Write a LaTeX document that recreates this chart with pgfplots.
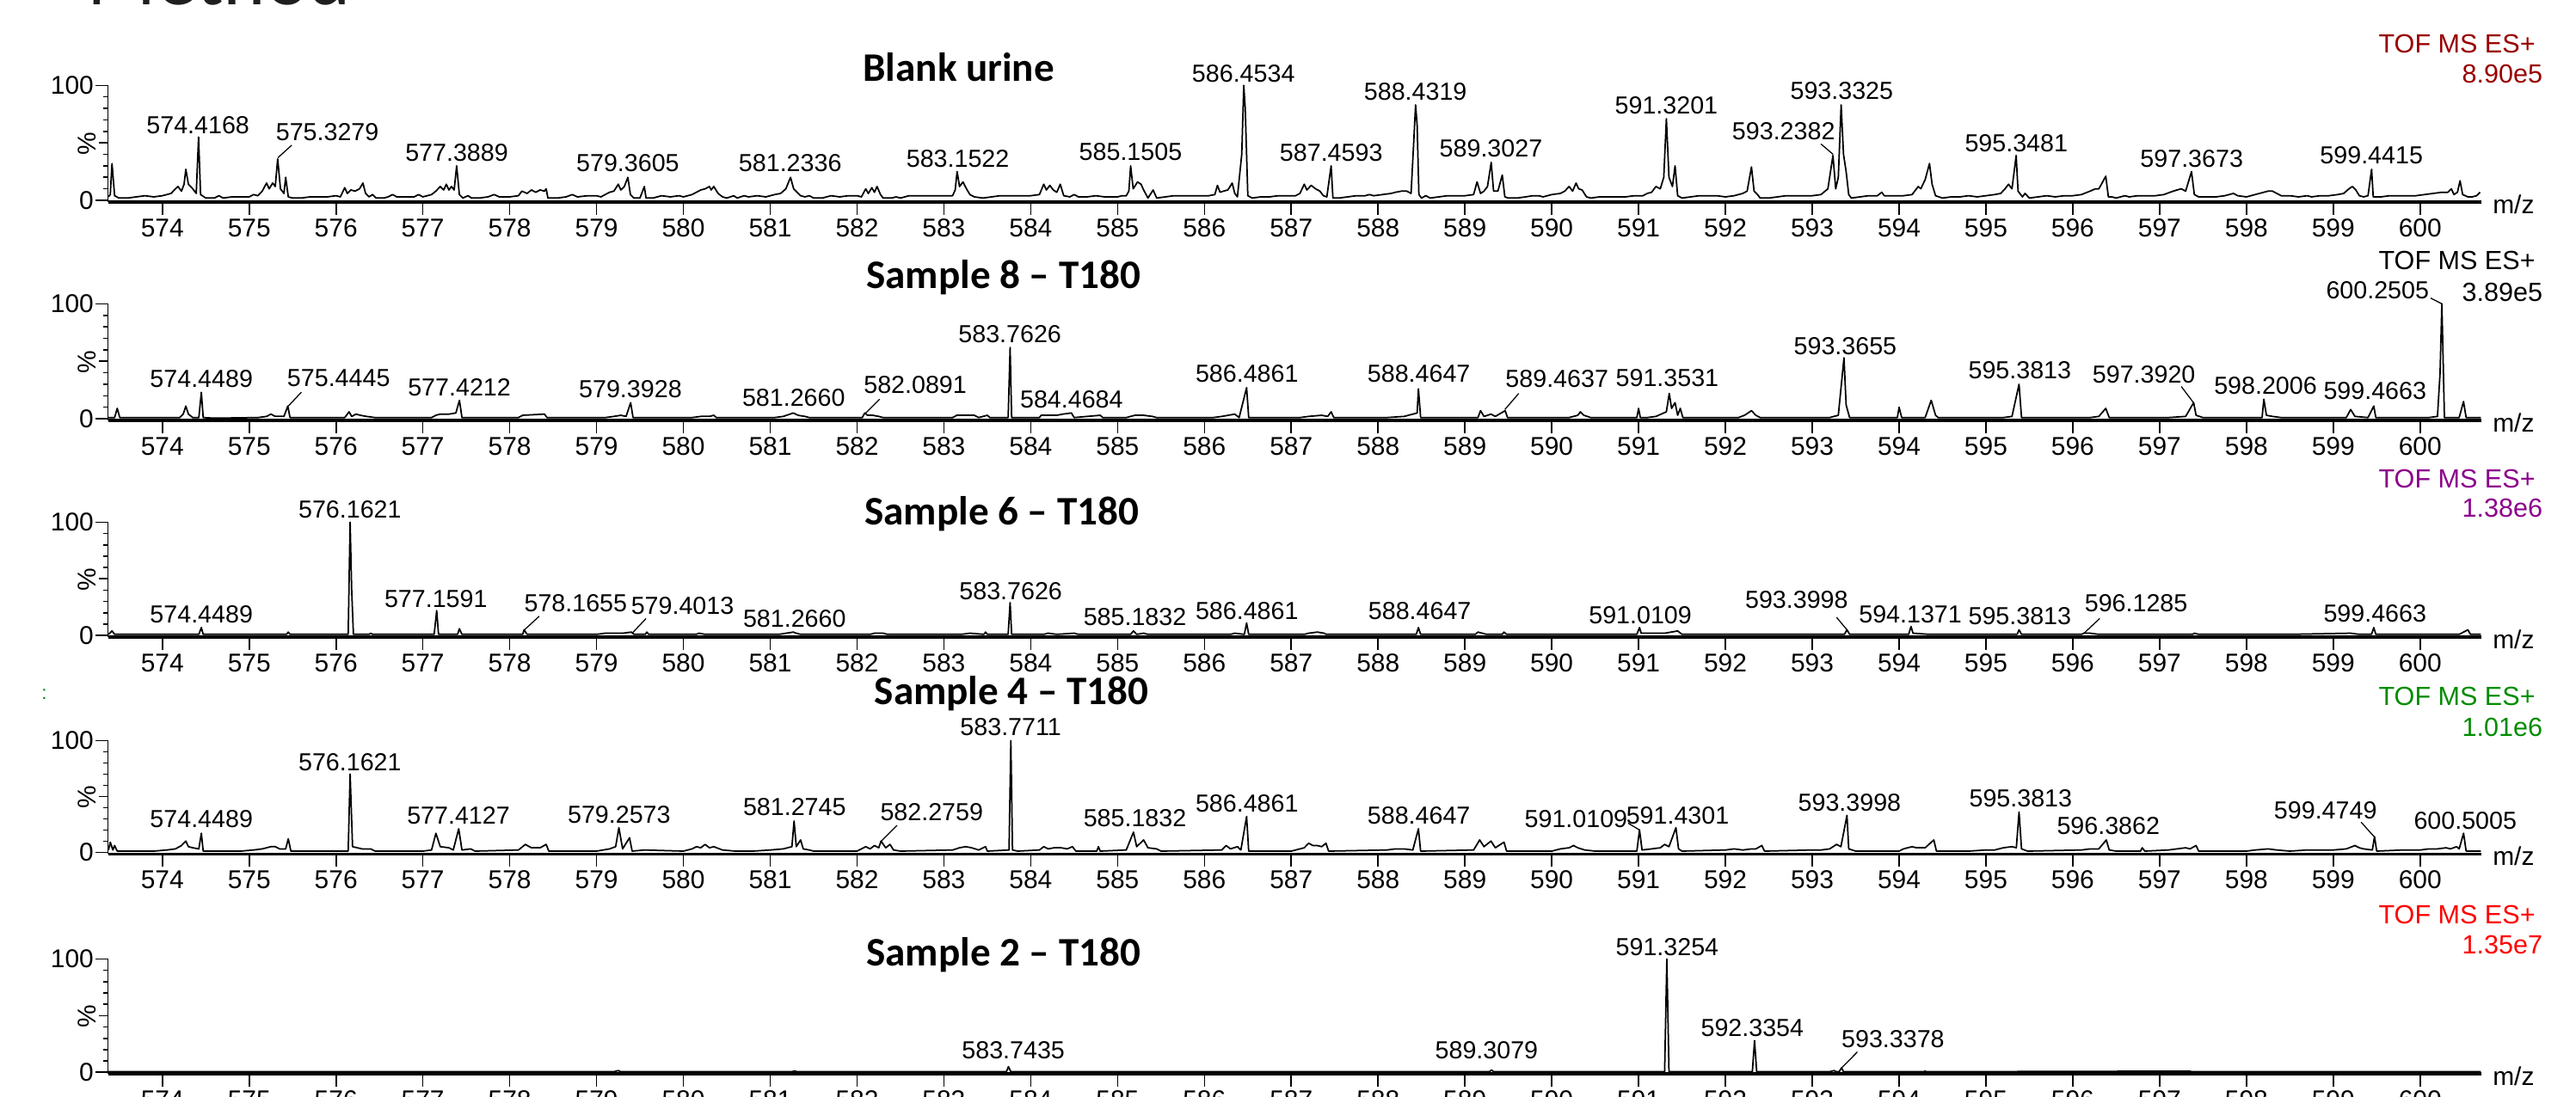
\documentclass[border=0pt]{standalone}
\usepackage{pgfplots}
\pgfplotsset{compat=1.18}
\usepackage{fontspec}
\setmainfont{Liberation Sans}
\newfontfamily\calibri{Carlito}
\newcommand\tickf{\fontsize{9.4}{11}\selectfont}
\newcommand\pkf{\fontsize{9}{10}\selectfont}
\newcommand\toff{\fontsize{9.6}{11}\selectfont}
\newcommand\ttl{\calibri\bfseries\fontsize{14.8}{17}\selectfont}
\definecolor{tofred}{RGB}{153,0,0}
\definecolor{tofpurple}{RGB}{140,0,140}
\definecolor{tofgreen}{RGB}{0,140,0}
\definecolor{tofbright}{RGB}{255,0,0}
\newcommand\pl[3]{\node[anchor=base,font=\pkf,inner sep=0pt] at (axis cs:#1,#2) {#3};}
\newcommand\ld[4]{\draw[line width=0.4pt] (axis cs:#1,#2) -- (axis cs:#3,#4);}
\pgfplotsset{ms/.style={scale only axis, width=866.9pt, xmin=573.375, xmax=600.71, ymin=-1.5, ymax=100,
  axis x line=bottom, axis y line=left, x axis line style={-, line width=1.1pt}, y axis line style={-, line width=0.5pt},
  xtick={574,...,600}, ytick={0,100}, minor y tick num=9, extra y ticks={50}, extra y tick labels={},
  extra y tick style={major tick length=3.4pt},
  tick align=outside, major tick length=4.6pt, minor tick length=1.8pt, tick style={black, line width=0.5pt},
  clip=false, /pgf/number format/assume math mode=true,
  xticklabel style={font=\tickf, inner sep=1.4pt}, yticklabel style={font=\tickf, inner sep=0.5pt},
  cycle list={{black, no markers, line width=0.55pt, line join=round}}}}
\begin{document}
\begin{tikzpicture}
% ---------------- Panel 1: Blank urine
\begin{axis}[ms, height=42.63pt, at={(39.48pt,326.97pt)}, anchor=south west]
\addplot[black, no markers, line width=0.55pt, line join=round] coordinates {(573.38,3)(573.40,5)(573.42,32)(573.45,4)(573.5,2)(573.6,2)(573.7,3)(573.8,4)(573.9,3)(574.0,4)(574.1,6)(574.15,10)(574.18,12)(574.22,8)(574.25,14)(574.27,27)(574.30,14)(574.35,10)(574.39,6)(574.4168,55)(574.44,5)(574.5,2)(574.6,2)(574.65,4)(574.7,2)(574.8,3)(574.9,3)(575.0,3)(575.05,5)(575.1,4)(575.15,8)(575.2,15)(575.23,10)(575.27,15)(575.3,12)(575.3279,36)(575.36,10)(575.4,6)(575.42,20)(575.45,3)(575.5,2)(575.6,2)(575.7,3)(575.8,3)(575.9,3)(576.0,4)(576.05,3)(576.1,11)(576.13,6)(576.17,9)(576.22,8)(576.27,10)(576.31,15)(576.34,6)(576.38,3)(576.42,5)(576.46,2)(576.55,2)(576.6,3)(576.65,5)(576.7,3)(576.8,3)(576.9,3)(576.95,5)(577.0,3)(577.1,5)(577.15,8)(577.2,12)(577.24,9)(577.27,14)(577.3,9)(577.33,12)(577.36,9)(577.3889,30)(577.42,5)(577.46,2)(577.52,4)(577.56,2)(577.65,2)(577.75,3)(577.82,5)(577.88,3)(578.0,3)(578.1,4)(578.14,8)(578.2,6)(578.25,9)(578.3,7)(578.35,9)(578.4,8)(578.42,10)(578.44,2)(578.55,2)(578.65,3)(578.72,5)(578.78,3)(578.9,4)(579.0,4)(579.05,3)(579.1,5)(579.15,7)(579.2,8)(579.25,14)(579.28,9)(579.32,12)(579.3605,20)(579.39,5)(579.43,2)(579.5,2)(579.55,12)(579.57,2)(579.65,2)(579.75,4)(579.85,3)(579.95,4)(580.0,3)(580.1,5)(580.15,7)(580.2,9)(580.25,10)(580.3,12)(580.32,9)(580.35,12)(580.4,6)(580.45,3)(580.5,2)(580.58,4)(580.62,2)(580.7,4)(580.75,3)(580.85,4)(580.95,3)(581.05,5)(581.12,6)(581.18,10)(581.2336,20)(581.27,10)(581.31,7)(581.35,4)(581.4,3)(581.45,4)(581.5,2)(581.6,2)(581.7,4)(581.8,3)(581.9,4)(582.0,4)(582.05,3)(582.1,10)(582.13,6)(582.17,11)(582.2,7)(582.23,12)(582.27,5)(582.3,2)(582.4,2)(582.45,3)(582.5,2)(582.6,4)(582.7,4)(582.8,4)(582.9,4)(583.0,4)(583.1,4)(583.13,9)(583.1522,25)(583.18,12)(583.22,16)(583.26,10)(583.3,5)(583.35,3)(583.45,2)(583.55,3)(583.65,4)(583.75,4)(583.85,4)(583.95,4)(584.0,4)(584.1,5)(584.15,14)(584.18,9)(584.22,13)(584.26,9)(584.3,7)(584.34,14)(584.38,4)(584.45,3)(584.5,5)(584.55,3)(584.65,3)(584.75,4)(584.85,3)(584.95,3)(585.0,3)(585.05,4)(585.1,4)(585.13,8)(585.1505,30)(585.18,10)(585.23,16)(585.27,14)(585.3,9)(585.35,2)(585.41,9)(585.45,2)(585.55,3)(585.65,4)(585.75,4)(585.85,4)(585.95,4)(586.05,4)(586.12,5)(586.15,13)(586.18,7)(586.22,8)(586.27,9)(586.32,15)(586.35,6)(586.38,3)(586.43,40)(586.4534,100)(586.47,80)(586.5,4)(586.55,2)(586.65,3)(586.75,3)(586.85,4)(586.95,4)(587.05,4)(587.1,6)(587.15,14)(587.18,9)(587.23,13)(587.28,10)(587.33,8)(587.37,4)(587.41,3)(587.4593,30)(587.48,2)(587.55,2)(587.65,3)(587.75,4)(587.85,4)(587.9,5)(587.95,4)(588.05,5)(588.15,6)(588.2,7)(588.27,8)(588.33,8)(588.38,6)(588.41,50)(588.4319,83)(588.45,65)(588.47,5)(588.5,2)(588.55,4)(588.6,2)(588.7,3)(588.8,4)(588.9,4)(589.0,4)(589.1,5)(589.14,16)(589.18,6)(589.22,8)(589.26,12)(589.3027,33)(589.33,8)(589.38,8)(589.43,22)(589.46,3)(589.5,2)(589.6,2)(589.7,3)(589.78,4)(589.85,4)(589.9,3)(589.95,4)(590.0,5)(590.1,6)(590.15,8)(590.2,12)(590.24,8)(590.28,15)(590.31,10)(590.35,9)(590.4,3)(590.45,2)(590.55,3)(590.65,3)(590.75,3)(590.85,3)(590.95,4)(591.05,4)(591.1,6)(591.15,7)(591.2,12)(591.25,10)(591.29,20)(591.3201,71)(591.35,20)(591.39,12)(591.42,30)(591.45,4)(591.5,2)(591.6,3)(591.7,4)(591.8,4)(591.9,4)(592.0,3)(592.1,4)(592.2,6)(592.25,8)(592.3,29)(592.33,8)(592.37,5)(592.4,2)(592.5,2)(592.6,3)(592.7,4)(592.8,4)(592.9,4)(593.0,4)(593.1,5)(593.18,10)(593.2382,39)(593.27,10)(593.3,20)(593.3325,83)(593.36,40)(593.39,25)(593.42,5)(593.45,2)(593.55,3)(593.65,4)(593.75,4)(593.8,7)(593.83,4)(593.95,4)(594.05,4)(594.15,5)(594.22,12)(594.25,10)(594.3,18)(594.35,32)(594.38,14)(594.42,4)(594.5,2)(594.6,3)(594.7,3)(594.8,4)(594.9,3)(595.0,4)(595.1,5)(595.17,6)(595.22,10)(595.26,14)(595.3,10)(595.3481,39)(595.37,8)(595.42,3)(595.45,6)(595.5,2)(595.6,3)(595.7,4)(595.8,3)(595.9,4)(596.0,4)(596.1,5)(596.2,8)(596.26,10)(596.3,10)(596.33,14)(596.38,21)(596.41,3)(596.45,3)(596.5,2)(596.6,4)(596.65,3)(596.75,4)(596.85,4)(596.95,4)(597.05,5)(597.12,7)(597.2,9)(597.25,10)(597.3,8)(597.3673,25)(597.4,5)(597.45,3)(597.55,3)(597.65,3)(597.75,4)(597.85,6)(597.9,4)(598.0,3)(598.1,5)(598.2,7)(598.25,8)(598.3,8)(598.35,6)(598.4,4)(598.5,4)(598.6,3)(598.7,4)(598.75,3)(598.85,4)(598.95,4)(599.05,5)(599.12,6)(599.18,10)(599.22,12)(599.26,9)(599.3,4)(599.35,3)(599.4,4)(599.4415,27)(599.46,3)(599.55,3)(599.65,4)(599.75,4)(599.85,4)(599.95,4)(600.05,5)(600.15,6)(600.25,7)(600.32,7)(600.36,10)(600.39,5)(600.43,7)(600.46,17)(600.49,5)(600.55,3)(600.6,3)(600.65,4)(600.69,7)};
\node[rotate=90,font=\tickf,inner sep=0pt] at (axis description cs:-0.009,0.5) {\%};
\pl{574.41}{58}{574.4168}
\pl{575.90}{52}{575.3279}\ld{575.33}{37}{575.49}{48}
\pl{577.39}{34}{577.3889}
\pl{579.36}{25}{579.3605}
\pl{581.23}{25}{581.2336}
\pl{583.16}{29}{583.1522}
\pl{585.15}{35}{585.1505}
\pl{586.45}{103}{586.4534}
\pl{587.46}{34}{587.4593}
\pl{588.43}{87}{588.4319}
\pl{589.30}{38}{589.3027}
\pl{591.32}{75}{591.3201}
\pl{592.67}{53}{593.2382}\ld{593.24}{40}{593.10}{49}
\pl{593.34}{88}{593.3325}
\pl{595.35}{42}{595.3481}
\pl{597.37}{29}{597.3673}
\pl{599.44}{32}{599.4415}
\end{axis}
% ---------------- Panel 2: Sample 8
\begin{axis}[ms, height=42.63pt, at={(39.48pt,247.17pt)}, anchor=south west]
\addplot[black, no markers, line width=0.55pt, line join=round] coordinates {(573.38,1)(573.45,1)(573.48,9)(573.51,1)(574.2,1)(574.24,4)(574.27,11)(574.3,4)(574.35,1)(574.42,1)(574.4489,23)(574.47,1)(574.6,0.5)(575.1,1)(575.2,2)(575.25,4)(575.3,2)(575.4,2)(575.4445,11)(575.47,1)(576.1,1)(576.15,6)(576.18,2)(576.23,4)(576.28,3)(576.35,2)(576.45,1)(577.1,1)(577.15,3)(577.2,4)(577.3,4)(577.38,5)(577.4212,16)(577.45,1)(578.1,1)(578.15,3)(578.4,4)(578.43,1)(579.1,1)(579.2,2)(579.28,3)(579.34,2)(579.3928,14)(579.42,1)(580.1,1)(580.2,2)(580.3,2)(580.35,3)(580.38,1)(581.05,1)(581.15,2)(581.2660,5)(581.32,3)(581.4,2)(581.45,1)(582.06,1)(582.0891,5)(582.12,3)(582.18,3)(582.25,2)(582.3,1)(583.1,1)(583.15,3)(583.25,3)(583.35,3)(583.4,1)(583.5,3)(583.53,1)(583.74,1)(583.7626,62)(583.78,1)(584.1,1)(584.12,3)(584.3,3)(584.37,4)(584.4684,5)(584.5,1)(584.8,3)(584.83,1)(585.1,1)(585.2,3)(585.3,3)(585.4,2)(585.45,1)(586.1,1)(586.2,2)(586.35,4)(586.4,1)(586.4861,27)(586.51,1)(587.1,1)(587.2,2)(587.35,3)(587.42,2)(587.46,6)(587.49,1)(588.1,1)(588.3,2)(588.45,5)(588.4647,26)(588.49,1)(589.15,1)(589.18,7)(589.22,2)(589.3,4)(589.35,2)(589.4637,7)(589.49,1)(590.2,1)(590.3,3)(590.33,6)(590.37,3)(590.45,1)(590.98,1)(591.0,9)(591.02,1)(591.1,1)(591.2,2)(591.32,6)(591.3531,22)(591.38,9)(591.42,14)(591.45,3)(591.48,9)(591.51,1)(592.15,1)(592.22,3)(592.3,7)(592.35,3)(592.4,1)(593.2,1)(593.3,3)(593.3655,53)(593.39,12)(593.43,1)(593.98,1)(594.0,10)(594.03,1)(594.3,1)(594.37,16)(594.42,3)(594.45,1)(595.2,1)(595.3,2)(595.3813,30)(595.41,1)(596.2,1)(596.3,2)(596.38,9)(596.42,1)(597.1,1)(597.3,2)(597.3920,14)(597.42,3)(597.5,1)(598.1,1)(598.18,1)(598.2006,17)(598.23,3)(598.3,2)(598.4,1)(599.15,1)(599.2,8)(599.25,2)(599.4,1)(599.4663,11)(599.49,1)(600.1,1)(600.2,2)(600.23,40)(600.2505,100)(600.28,1)(600.45,1)(600.5,15)(600.53,1)(600.7,1)};
\node[rotate=90,font=\tickf,inner sep=0pt] at (axis description cs:-0.009,0.5) {\%};
\pl{574.45}{27}{574.4489}
\pl{576.03}{28}{575.4445}\ld{575.45}{11}{575.60}{23}
\pl{577.42}{19.5}{577.4212}
\pl{579.39}{18}{579.3928}
\pl{581.27}{11}{581.2660}
\pl{582.67}{22}{582.0891}\ld{582.10}{5}{582.26}{17}
\pl{583.76}{66}{583.7626}
\pl{584.47}{9.5}{584.4684}
\pl{586.49}{32}{586.4861}
\pl{588.47}{32}{588.4647}
\pl{590.06}{27}{589.4637}\ld{589.46}{8}{589.62}{22}
\pl{591.33}{28}{591.3531}
\pl{593.38}{56}{593.3655}
\pl{595.39}{35}{595.3813}
\pl{596.82}{31}{597.3920}\ld{597.39}{14}{597.25}{28}
\pl{598.22}{21}{598.2006}
\pl{599.48}{16.5}{599.4663}
\pl{599.51}{104.5}{600.2505}\ld{600.12}{105}{600.25}{100}
\end{axis}
% ---------------- Panel 3: Sample 6
\begin{axis}[ms, height=42.02pt, at={(39.48pt,167.98pt)}, anchor=south west]
\addplot[black, no markers, line width=0.55pt, line join=round] coordinates {(573.38,1)(573.42,4)(573.45,1)(574.0,1)(574.42,1)(574.4489,7)(574.47,1)(575.1,1)(575.43,1)(575.45,3)(575.47,1)(576.14,1)(576.1621,100)(576.18,40)(576.2,1)(576.38,1)(576.4,2)(576.42,1)(577.13,1)(577.1591,22)(577.18,1)(577.4,1)(577.42,6)(577.45,1)(578.15,1)(578.1655,5)(578.2,1)(579.0,1)(579.1,2)(579.2,2)(579.3,2)(579.4013,3)(579.43,1)(579.56,1)(579.58,3)(579.6,1)(580.15,1)(580.18,2)(580.25,1)(581.1,1)(581.2660,3)(581.3,2)(581.35,1)(582.15,1)(582.2,2)(582.3,2)(582.35,1)(583.2,1)(583.3,2)(583.46,1)(583.48,3)(583.5,1)(583.74,1)(583.7626,29)(583.78,1)(584.15,1)(584.2,2)(584.3,1)(584.5,2)(584.55,1)(585.15,1)(585.1832,4)(585.22,1)(585.3,2)(585.35,1)(586.3,1)(586.35,2)(586.46,1)(586.4861,11)(586.51,1)(587.15,1)(587.2,2)(587.3,3)(587.38,2)(587.4,1)(588.44,1)(588.4647,7)(588.49,1)(589.12,1)(589.15,3)(589.2,2)(589.25,1)(589.43,1)(589.45,3)(589.48,1)(590.05,1)(590.98,1)(591.0109,7)(591.03,2)(591.3,2)(591.45,4)(591.5,1)(592.0,1)(593.37,1)(593.3998,5)(593.43,1)(594.11,1)(594.1371,8)(594.16,2)(594.35,1)(595.2,1)(595.36,1)(595.3813,5)(595.41,1)(596.1,1)(596.1285,2)(596.2,2)(596.3,1)(597.38,1)(597.4,2)(597.45,1)(598.5,1)(599.2,2)(599.3,1)(599.44,1)(599.4663,7)(599.49,1)(600.45,1)(600.55,5)(600.58,1)(600.7,1)};
\node[rotate=90,font=\tickf,inner sep=0pt] at (axis description cs:-0.009,0.5) {\%};
\pl{574.45}{11.4}{574.4489}
\pl{576.16}{104}{576.1621}
\pl{577.15}{25}{577.1591}
\pl{578.76}{21}{578.1655}\ld{578.17}{5}{578.34}{17}
\pl{579.99}{19}{579.4013}\ld{579.41}{2}{579.57}{15}
\pl{581.28}{7.6}{581.2660}
\pl{583.77}{32}{583.7626}
\pl{585.20}{9}{585.1832}
\pl{586.49}{14}{586.4861}
\pl{588.48}{14}{588.4647}
\pl{591.02}{10.6}{591.0109}
\pl{592.82}{24}{593.3998}\ld{593.40}{5}{593.28}{16}
\pl{594.13}{11.4}{594.1371}
\pl{595.39}{10}{595.3813}
\pl{596.73}{21}{596.1285}\ld{596.13}{2}{596.31}{15}
\pl{599.48}{12}{599.4663}
\end{axis}
% ---------------- Panel 4: Sample 4
\begin{axis}[ms, height=41.41pt, at={(39.48pt,88.79pt)}, anchor=south west]
\addplot[black, no markers, line width=0.55pt, line join=round] coordinates {(573.38,2)(573.4,9)(573.43,2)(573.45,6)(573.48,1)(573.9,1)(574.05,2)(574.15,3)(574.22,6)(574.27,10)(574.3,5)(574.35,4)(574.42,3)(574.4489,17)(574.47,1)(574.9,1)(575.05,2)(575.15,3)(575.25,5)(575.3,5)(575.35,3)(575.42,3)(575.45,12)(575.48,1)(576.0,1)(576.14,1)(576.1621,70)(576.19,5)(576.3,3)(576.4,3)(576.45,1)(577.0,1)(577.1,2)(577.15,17)(577.2,5)(577.3,4)(577.35,2)(577.4127,21)(577.45,2)(577.55,3)(577.6,1)(578.1,2)(578.18,7)(578.25,4)(578.35,4)(578.42,7)(578.45,1)(579.0,1)(579.15,3)(579.22,5)(579.2573,22)(579.3,3)(579.38,13)(579.41,1)(579.55,2)(580.0,1)(580.1,3)(580.15,5)(580.2,4)(580.25,7)(580.3,4)(580.35,5)(580.45,2)(580.6,1)(580.8,1)(581.0,2)(581.15,3)(581.25,5)(581.2745,28)(581.3,5)(581.35,11)(581.38,3)(581.45,2)(581.5,1)(582.0,1)(582.1,5)(582.15,3)(582.2,6)(582.25,4)(582.2759,10)(582.33,4)(582.38,7)(582.42,2)(582.5,1)(583.1,2)(583.18,4)(583.25,5)(583.32,4)(583.4,2)(583.48,5)(583.5,1)(583.75,2)(583.7711,100)(583.79,2)(583.85,1)(584.1,2)(584.15,5)(584.2,3)(584.27,4)(584.35,4)(584.42,3)(584.48,5)(584.52,1)(584.76,1)(584.78,5)(584.8,1)(585.1,2)(585.1832,18)(585.22,5)(585.3,11)(585.35,4)(585.45,3)(585.5,1)(586.2,2)(586.25,6)(586.3,3)(586.38,5)(586.42,2)(586.4861,32)(586.51,1)(587.0,1)(587.15,4)(587.2,8)(587.25,6)(587.3,6)(587.35,5)(587.4,8)(587.43,1)(588.1,2)(588.2,3)(588.3,3)(588.4,2)(588.4647,21)(588.49,1)(589.1,2)(589.17,11)(589.22,5)(589.3,10)(589.35,4)(589.45,9)(589.48,1)(590.0,1)(590.1,3)(590.2,4)(590.25,6)(590.3,4)(590.38,2)(590.5,1)(590.98,1)(591.0109,20)(591.04,2)(591.15,3)(591.25,4)(591.3,7)(591.35,5)(591.4301,22)(591.46,3)(591.5,1)(592.0,2)(592.1,3)(592.2,2)(592.3,3)(592.35,3)(592.42,6)(592.45,1)(593.0,2)(593.1,2)(593.2,3)(593.28,7)(593.33,5)(593.3998,33)(593.42,3)(593.5,1)(594.0,1)(594.05,3)(594.15,5)(594.2,4)(594.3,4)(594.4,11)(594.43,1)(594.8,1)(595.0,2)(595.1,2)(595.2,4)(595.3,5)(595.35,4)(595.3813,36)(595.41,3)(595.48,1)(596.1,2)(596.2,3)(596.3,3)(596.3862,11)(596.42,2)(596.5,1)(596.78,1)(596.8,4)(596.83,1)(597.1,2)(597.2,3)(597.3,4)(597.35,3)(597.42,6)(597.45,1)(598.0,1)(598.1,2)(598.25,3)(598.35,2)(598.5,1)(598.7,2)(598.9,2)(599.0,2)(599.15,3)(599.25,6)(599.3,4)(599.35,3)(599.45,2)(599.4749,14)(599.5,1)(599.8,2)(600.0,2)(600.1,3)(600.2,3)(600.3,4)(600.35,3)(600.42,5)(600.45,3)(600.5005,17)(600.53,1)(600.7,1)};
\node[rotate=90,font=\tickf,inner sep=0pt] at (axis description cs:-0.009,0.5) {\%};
\pl{574.45}{22}{574.4489}
\pl{576.16}{73}{576.1621}
\pl{577.41}{25}{577.4127}
\pl{579.26}{26}{579.2573}
\pl{581.28}{33}{581.2745}
\pl{582.86}{28}{582.2759}\ld{582.28}{10}{582.46}{24}
\pl{583.77}{104.5}{583.7711}
\pl{585.20}{22.6}{585.1832}
\pl{586.49}{36}{586.4861}
\pl{588.47}{25}{588.4647}
\pl{590.28}{22}{591.0109}\ld{591.01}{20}{590.88}{26}
\pl{591.45}{25}{591.4301}
\pl{593.43}{37}{593.3998}
\pl{595.40}{41}{595.3813}
\pl{596.41}{16}{596.3862}
\pl{598.91}{30}{599.4749}\ld{599.47}{14}{599.32}{27}
\pl{600.52}{21}{600.5005}
\end{axis}
% ---------------- Panel 5: Sample 2
\begin{axis}[ms, height=42.02pt, at={(39.48pt,8.38pt)}, anchor=south west]
\addplot[black, no markers, line width=0.55pt, line join=round] coordinates {(573.38,0.5)(579.2,0.5)(579.25,1.5)(579.28,0.5)(581.25,0.5)(581.28,1.2)(581.31,0.5)(583.72,0.5)(583.7435,5)(583.77,0.5)(589.28,0.5)(589.3079,2)(589.33,0.5)(591.30,0.5)(591.3254,100)(591.35,0.5)(592.31,0.5)(592.3354,28)(592.36,0.5)(593.2,0.5)(593.25,1.5)(593.28,0.5)(593.31,0.5)(593.3378,4)(593.36,0.5)(594.28,0.5)(594.3,1)(594.32,0.5)(597.35,1)(597.37,0.5)(600.7,0.5)};
\node[rotate=90,font=\tickf,inner sep=0pt] at (axis description cs:-0.009,0.5) {\%};
\pl{583.80}{12}{583.7435}
\pl{589.25}{12}{589.3079}
\pl{591.33}{103}{591.3254}
\pl{592.31}{32}{592.3354}
\pl{593.93}{22}{593.3378}\ld{593.34}{4}{593.52}{18}
\end{axis}
% ---------------- annotations (reference pixel frame 1568x668)
\begin{scope}[x=0.6pt,y=-0.6pt,yshift=400.8pt]
\node[anchor=base west,inner sep=0pt,font=\calibri\fontsize{29.5}{32}\selectfont,text=black!88] at (53,2.8) {Method};
\node[anchor=base west,inner sep=0pt,font=\ttl] at (525,49.7) {Blank urine};
\node[anchor=base west,inner sep=0pt,font=\ttl] at (527,175.4) {Sample 8 – T180};
\node[anchor=base west,inner sep=0pt,font=\ttl] at (526,319.4) {Sample 6 – T180};
\node[anchor=base west,inner sep=0pt,font=\ttl] at (532,429.3) {Sample 4 – T180};
\node[anchor=base west,inner sep=0pt,font=\ttl] at (527,588) {Sample 2 – T180};
\node[anchor=base east,inner sep=0pt,font=\toff,text=tofred] at (1543.5,32.1) {TOF MS ES+};
\node[anchor=base east,inner sep=0pt,font=\toff,text=tofred] at (1548,50.6) {8.90e5};
\node[anchor=base east,inner sep=0pt,font=\toff] at (1543.5,164.3) {TOF MS ES+};
\node[anchor=base east,inner sep=0pt,font=\toff] at (1548,183.6) {3.89e5};
\node[anchor=base east,inner sep=0pt,font=\toff,text=tofpurple] at (1543.5,297.1) {TOF MS ES+};
\node[anchor=base east,inner sep=0pt,font=\toff,text=tofpurple] at (1548,315) {1.38e6};
\node[anchor=base east,inner sep=0pt,font=\toff,text=tofgreen] at (1543.5,429.6) {TOF MS ES+};
\node[anchor=base east,inner sep=0pt,font=\toff,text=tofgreen] at (1548,448.6) {1.01e6};
\node[anchor=base east,inner sep=0pt,font=\toff,text=tofbright] at (1543.5,562.6) {TOF MS ES+};
\node[anchor=base east,inner sep=0pt,font=\toff,text=tofbright] at (1548,581.1) {1.35e7};
\node[anchor=west,inner sep=0pt,font=\tickf] at (1517,124.5) {m/z};
\node[anchor=west,inner sep=0pt,font=\tickf] at (1517,257.5) {m/z};
\node[anchor=west,inner sep=0pt,font=\tickf] at (1517,389.5) {m/z};
\node[anchor=west,inner sep=0pt,font=\tickf] at (1517,521.5) {m/z};
\node[anchor=west,inner sep=0pt,font=\tickf] at (1517,655.5) {m/z};
\node[anchor=center,inner sep=0pt,font=\fontsize{7}{8}\selectfont,text=tofgreen] at (27,423) {:};
\end{scope}
\pgfresetboundingbox
\path[use as bounding box] (0,0) rectangle (940.8pt,400.8pt);
\end{tikzpicture}
\end{document}
